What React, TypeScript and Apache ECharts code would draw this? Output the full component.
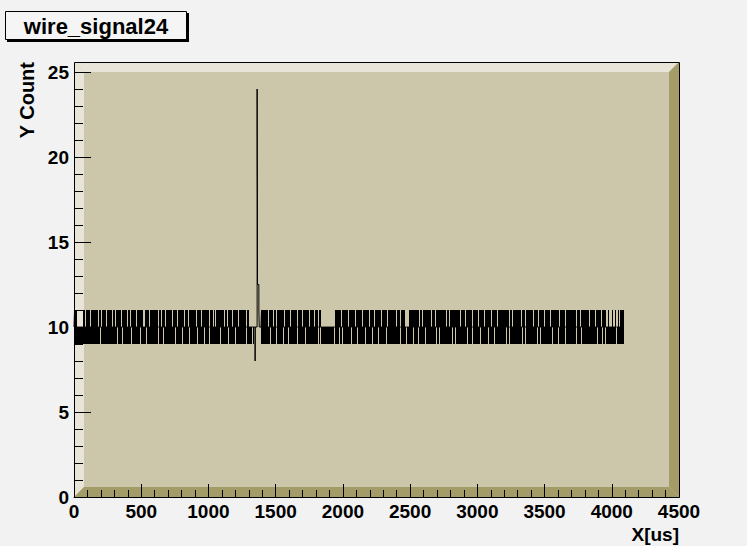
import React, { useEffect, useRef } from "react";
import * as echarts from "echarts";

// ---- data ----
const X_MIN = 0;
const X_MAX = 4500;
const X_INTERVAL = 500;
const Y_MIN = 0;
const Y_MAX = 25;
const Y_INTERVAL = 5;

const BASE_LEVEL = 10;
const HIGH_LEVEL = 11;
const LOW_LEVEL = 9;
// width in X units of one drawn column of the original plot
const COLUMN_WIDTH = 4500 / 605;

// columns where the noise reaches 11
const HIGH_COLUMNS = [
  "1110000001", "1011110111", "1111011011", "1101111101", "1011111011",
  "1110110111", "1101111110", "0111101111", "1111011011", "1011111101",
  "1110111111", "0111011111", "1101111011", "1111101110", "1011111111",
  "0110111101", "1111011111", "1101100000", "0000000111", "1111011110",
  "1101111111", "0111110111", "1110111101", "1111101111", "0111011000",
  "0000000000", "0111111011", "1111011111", "1011111101", "1111101111",
  "0111111011", "1110111111", "1101110111", "1000011111", "1111101101",
  "1111111011", "1011111111", "1101101111", "1111110111", "1011111101",
  "1111011111", "0111111011", "1110111111", "1111101101", "1111111011",
  "1011111110", "1111011111", "0111110111", "1111101111", "1011111111",
  "1101110111", "1111101111", "1011111011", "1100100010", "0100101111",
];

// columns where the noise reaches 9
const LOW_COLUMNS = [
  "1111111111", "1111111111", "1111110111", "1111111111", "1110111101",
  "1111111011", "1111110111", "1101111111", "1111011110", "1111111111",
  "1011111101", "1111101111", "1110111111", "0111101111", "1111110111",
  "1111011111", "1011111111", "1101111101", "0000000111", "1111110111",
  "1101111110", "1111011111", "1110111111", "1011111111", "1111010111",
  "1111111111", "0111101101", "1111111011", "1110111111", "1011111101",
  "1111011111", "1101111111", "1111110111", "1101111110", "1111011111",
  "1011111111", "1101101111", "1111111101", "1011111111", "1110111101",
  "1111110111", "1111011111", "0111111111", "1101101111", "1111111101",
  "1011111111", "1110110111", "1111111101", "1111011111", "1011111111",
  "1101111011", "1111111111", "1110111101", "1011111111", "1101111111",
];

// the pulse near X = 1350: bin edges and the values between them
const SPIKE_FIRST_COLUMN = 180;
const SPIKE_LAST_COLUMN = 186;
const SPIKE_EDGES = [1347, 1348, 1362, 1363, 1364, 1365, 1375, 1378];
const SPIKE_VALUES = [8, 10, 24, 20, 18, 12.5, 11];

function buildPoints(): number[][] {
  const hi = HIGH_COLUMNS.join("");
  const lo = LOW_COLUMNS.join("");
  const pts: number[][] = [];
  for (let c = 0; c < hi.length; c++) {
    const x0 = c * COLUMN_WIDTH;
    const x1 = (c + 1) * COLUMN_WIDTH;
    const xc = (c + 0.5) * COLUMN_WIDTH;
    if (c === SPIKE_FIRST_COLUMN) {
      pts.push([x0, BASE_LEVEL]);
      let prev = BASE_LEVEL;
      for (let i = 0; i < SPIKE_VALUES.length; i++) {
        pts.push([SPIKE_EDGES[i], prev], [SPIKE_EDGES[i], SPIKE_VALUES[i]]);
        prev = SPIKE_VALUES[i];
      }
      const last = SPIKE_EDGES[SPIKE_EDGES.length - 1];
      pts.push([last, prev], [last, BASE_LEVEL]);
      continue;
    }
    if (c > SPIKE_FIRST_COLUMN && c <= SPIKE_LAST_COLUMN) continue;
    pts.push([x0, BASE_LEVEL], [xc, BASE_LEVEL]);
    if (hi[c] === "1") pts.push([xc, HIGH_LEVEL], [xc, BASE_LEVEL]);
    if (lo[c] === "1") pts.push([xc, LOW_LEVEL], [xc, BASE_LEVEL]);
    pts.push([x1, BASE_LEVEL]);
  }
  return pts;
}

const FONT = '"Liberation Sans", Arial, Helvetica, sans-serif';

export default function App() {
  const ref = useRef<HTMLDivElement>(null);
  useEffect(() => {
    document.body.style.margin = "0";
    const chart = echarts.init(ref.current!, null, { renderer: "svg" });
    const L = 74, T = 62, R = 679, B = 497, BV = 10;
    const fill = "#ccc7aa";
    const light = "#e8e5d8";
    const dark = "#a39b68";
    const plain = (v: number) => String(v);
    chart.setOption({
      animation: false,
      backgroundColor: "#f2f2f2",
      grid: { left: 74, top: 72, width: 605, height: 425, containLabel: false },
      xAxis: {
        type: "value",
        min: X_MIN,
        max: X_MAX,
        interval: X_INTERVAL,
        axisLine: { show: true, lineStyle: { color: "#000", width: 1 } },
        axisTick: { show: true, inside: true, length: 13, lineStyle: { color: "#000", width: 1 } },
        minorTick: { show: true, splitNumber: 5, length: 7, lineStyle: { color: "#000", width: 1 } },
        splitLine: { show: false },
        axisLabel: { color: "#000", fontSize: 19, fontWeight: "bold", fontFamily: FONT, margin: 5, formatter: plain },
      },
      yAxis: {
        type: "value",
        min: Y_MIN,
        max: Y_MAX,
        interval: Y_INTERVAL,
        axisLine: { show: true, lineStyle: { color: "#000", width: 1 } },
        axisTick: { show: true, inside: true, length: 17, lineStyle: { color: "#000", width: 1 } },
        minorTick: { show: true, splitNumber: 5, length: 9, lineStyle: { color: "#000", width: 1 } },
        splitLine: { show: false },
        axisLabel: { color: "#000", fontSize: 19, fontWeight: "bold", fontFamily: FONT, margin: 5, formatter: plain },
      },
      graphic: [
        { type: "rect", z: -10, silent: true, shape: { x: L, y: T, width: R - L, height: B - T }, style: { fill } },
        { type: "polygon", z: -9, silent: true, shape: { points: [[L, T], [R, T], [R - BV, T + BV], [L + BV, T + BV]] }, style: { fill: light } },
        { type: "polygon", z: -9, silent: true, shape: { points: [[L, T], [L + BV, T + BV], [L + BV, B - BV], [L, B]] }, style: { fill: light } },
        { type: "polygon", z: -9, silent: true, shape: { points: [[L, B], [L + BV, B - BV], [R - BV, B - BV], [R, B]] }, style: { fill: dark } },
        { type: "polygon", z: -9, silent: true, shape: { points: [[R, T], [R, B], [R - BV, B - BV], [R - BV, T + BV]] }, style: { fill: dark } },
        { type: "rect", z: 50, silent: true, shape: { x: L + 0.5, y: T + 0.5, width: R - L, height: B - T }, style: { fill: "none", stroke: "#000", lineWidth: 1 } },
        { type: "rect", z: 50, silent: true, shape: { x: 7, y: 13, width: 182, height: 29 }, style: { fill: "#000" } },
        { type: "rect", z: 51, silent: true, shape: { x: 5.5, y: 11.5, width: 181, height: 28 }, style: { fill: "#f5f5f5", stroke: "#000", lineWidth: 1 } },
        { type: "text", z: 52, silent: true, x: 96, y: 26, style: { text: "wire_signal24", font: `bold 22px ${FONT}`, fill: "#000", textAlign: "center", textVerticalAlign: "middle" } },
        { type: "text", z: 52, silent: true, x: 679, y: 534, style: { text: "X[us]", font: `bold 19px ${FONT}`, fill: "#000", textAlign: "right", textVerticalAlign: "middle" } },
        { type: "text", z: 52, silent: true, x: 27, y: 62, rotation: Math.PI / 2, style: { text: "Y Count", font: `bold 20px ${FONT}`, fill: "#000", textAlign: "right", textVerticalAlign: "middle" } },
      ],
      series: [
        {
          type: "line",
          data: buildPoints(),
          showSymbol: false,
          symbol: "none",
          silent: true,
          lineStyle: { color: "#000", width: 1 },
          z: 5,
        },
      ],
    });
    return () => chart.dispose();
  }, []);
  return <div ref={ref} style={{ position: "fixed", left: 0, top: 0, width: 747, height: 546 }} />;
}
